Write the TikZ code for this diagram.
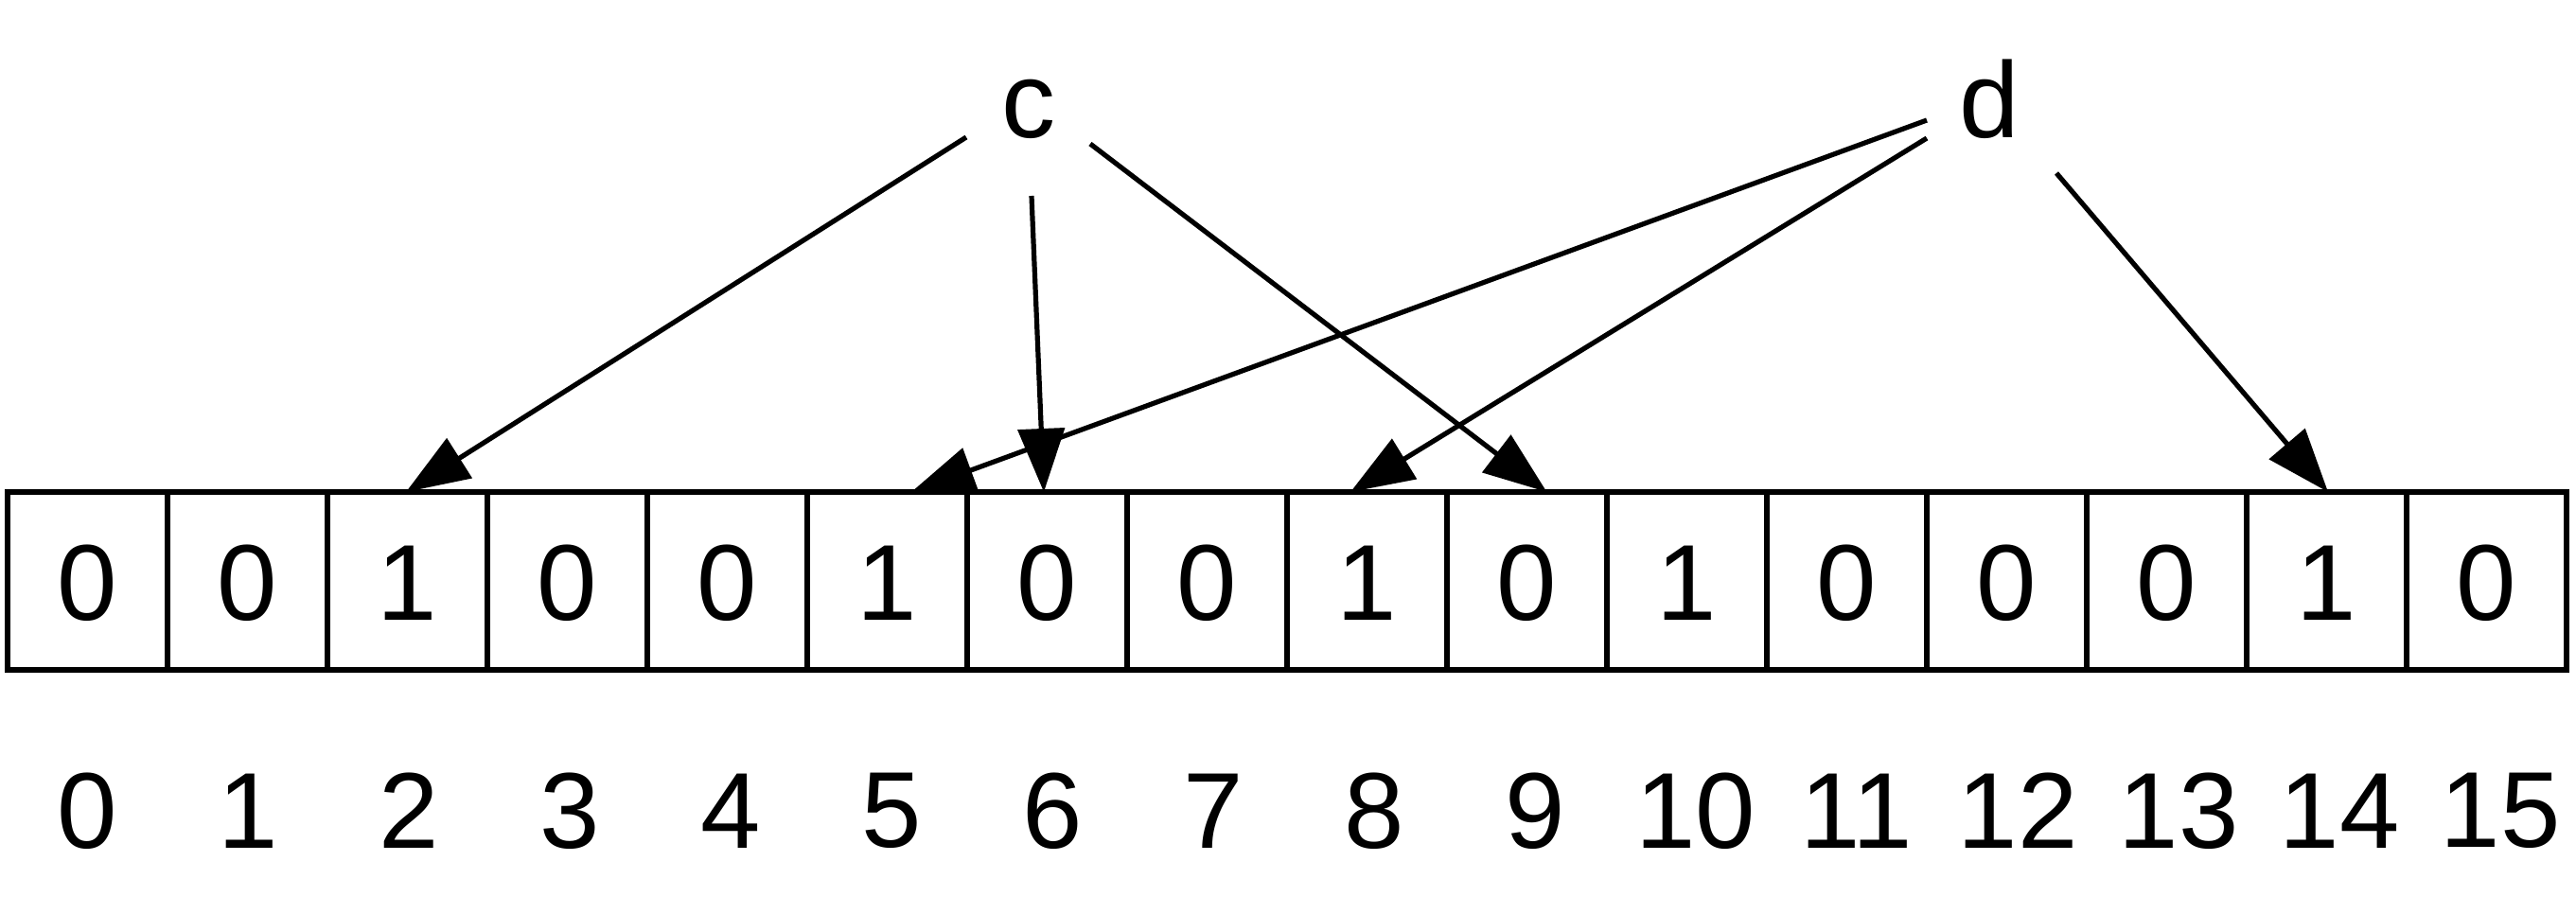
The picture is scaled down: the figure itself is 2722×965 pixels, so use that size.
\documentclass[tikz,border=0pt]{standalone}
\usepackage{fontspec}
\setmainfont{Liberation Sans}
\usetikzlibrary{arrows.meta,calc}
\begin{document}
\begin{tikzpicture}[x=0.25pt,y=-0.25pt,
  cellbox/.style={draw,line width=1.5pt,minimum width=42.25pt,minimum height=47pt,inner sep=0pt,outer sep=0pt},
  digit/.style={inner sep=0pt,font=\fontsize{28.5}{30}\selectfont},
  idxlabel/.style={inner sep=0pt,font=\fontsize{28.5}{30}\selectfont},
  varlabel/.style={inner sep=0pt,anchor=base,font=\fontsize{28.5}{30}\selectfont},
  arr/.style={line width=1.3pt,-{Triangle[length=16.75pt,width=12.25pt]}}]
\useasboundingbox (0,0) rectangle (2722,965);
% cells
\foreach \v [count=\i from 0] in {0,0,1,0,0,1,0,0,1,0,1,0,0,0,1,0}{
  \node[cellbox] (cell\i) at ({8+169*(\i+0.5)},614) {};
  \node[digit] (val\i) at ({8+169*(\i+0.5)},616) {\v};
  \node[idxlabel] (idx\i) at ({92+170*\i},857) {\i};
}
% variables
\node[varlabel] (c) at (1087,145) {c};
\node[varlabel] (d) at (2102,145) {d};
% tail points
\coordinate (c2) at (1021,145);
\coordinate (c6) at (1090,207);
\coordinate (c9) at (1152,152);
\coordinate (d5) at (2036,127);
\coordinate (d8) at (2036,146);
\coordinate (d14) at (2173,183);
% arrows
\draw[arr] (c2) -- ($(cell2.north)+(-1.5,0)$);
\draw[arr] (c6) -- ($(cell6.north)+(-3.5,0)$);
\draw[arr] (c9) -- ($(cell9.north)+(21,0)$);
\draw[arr] (d5) -- ($(cell5.north)+(25.5,0)$);
\draw[arr] (d8) -- ($(cell8.north)+(-17.5,0)$);
\draw[arr] (d14) -- ($(cell14.north)+(1.5,0)$);
\end{tikzpicture}
\end{document}
